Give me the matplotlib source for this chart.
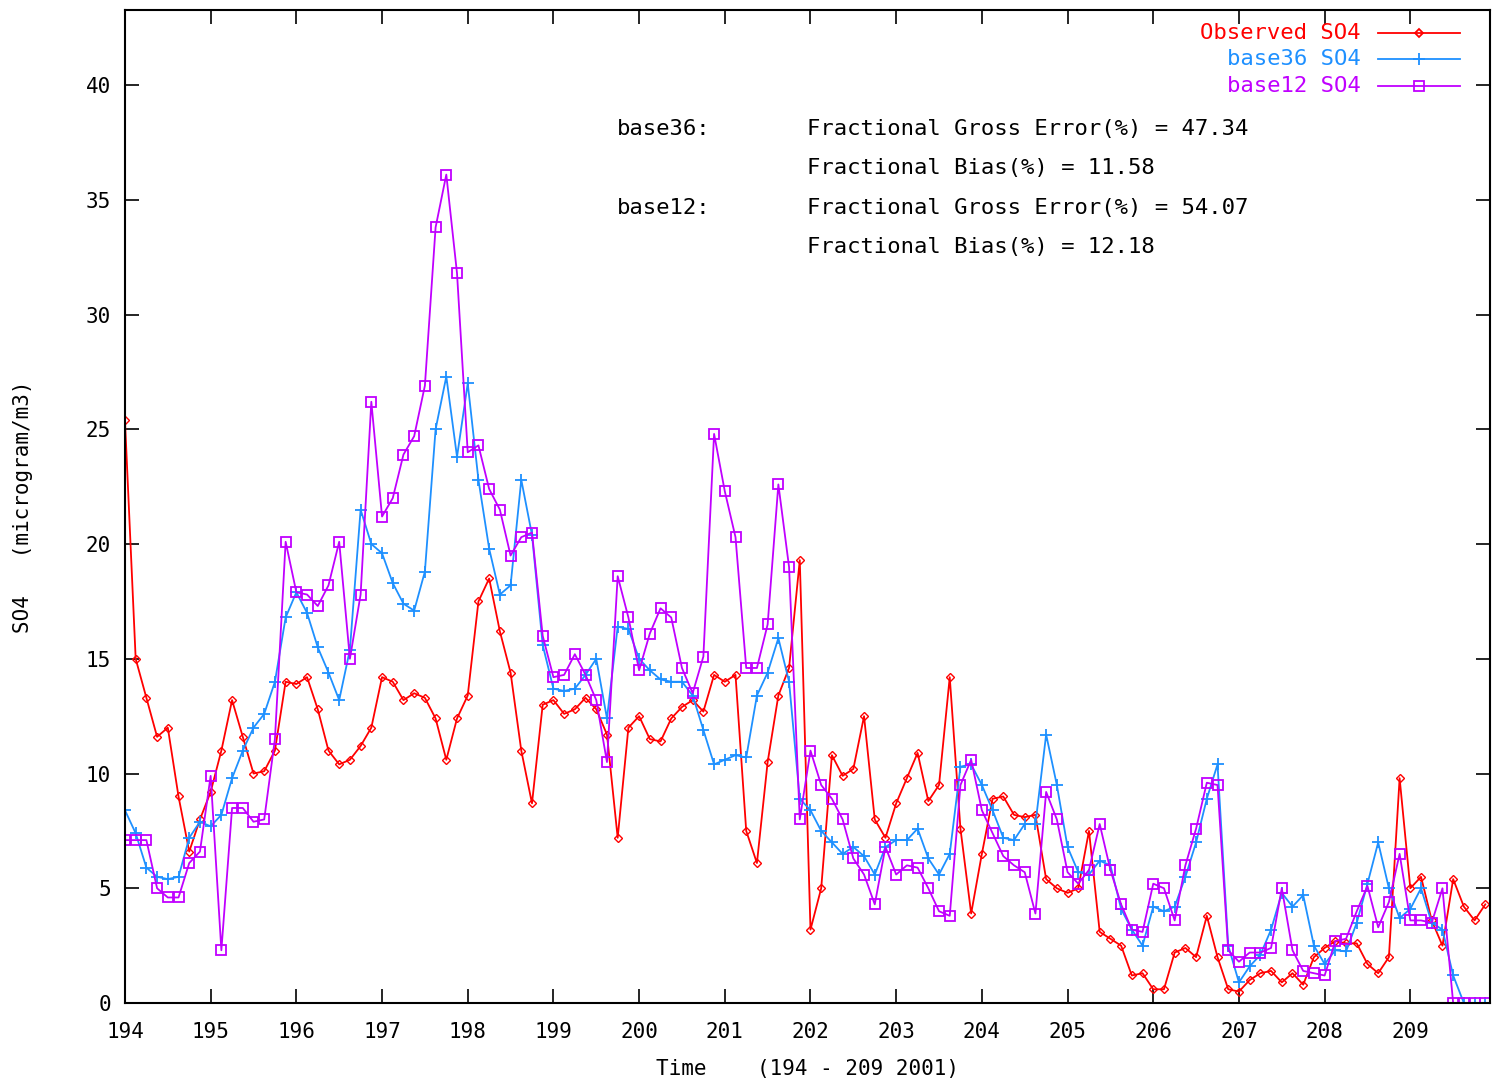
import numpy as np
import matplotlib.pyplot as plt
from matplotlib.lines import Line2D

plt.rcParams['font.family'] = ['DejaVu Sans Mono']

# 3-hourly values, one row per day (194 ... 209)
observed = [
    25.4, 15.0, 13.3, 11.6, 12.0, 9.0, 6.6, 8.0,
    9.2, 11.0, 13.2, 11.6, 10.0, 10.1, 11.0, 14.0,
    13.9, 14.2, 12.8, 11.0, 10.4, 10.6, 11.2, 12.0,
    14.2, 14.0, 13.2, 13.5, 13.3, 12.4, 10.6, 12.4,
    13.4, 17.5, 18.5, 16.2, 14.4, 11.0, 8.7, 13.0,
    13.2, 12.6, 12.8, 13.3, 12.8, 11.7, 7.2, 12.0,
    12.5, 11.5, 11.4, 12.4, 12.9, 13.2, 12.7, 14.3,
    14.0, 14.3, 7.5, 6.1, 10.5, 13.4, 14.6, 19.3,
    3.2, 5.0, 10.8, 9.9, 10.2, 12.5, 8.0, 7.2,
    8.7, 9.8, 10.9, 8.8, 9.5, 14.2, 7.6, 3.9,
    6.5, 8.9, 9.0, 8.2, 8.1, 8.2, 5.4, 5.0,
    4.8, 5.0, 7.5, 3.1, 2.8, 2.5, 1.2, 1.3,
    0.6, 0.6, 2.2, 2.4, 2.0, 3.8, 2.0, 0.6,
    0.5, 1.0, 1.3, 1.4, 0.9, 1.3, 0.8, 2.0,
    2.4, 2.7, 2.6, 2.6, 1.7, 1.3, 2.0, 9.8,
    5.0, 5.5, 3.6, 2.5, 5.4, 4.2, 3.6, 4.3,
]
base36 = [
    8.4, 7.4, 5.9, 5.5, 5.4, 5.5, 7.2, 7.9,
    7.7, 8.2, 9.8, 11.0, 12.0, 12.6, 14.0, 16.8,
    17.9, 17.0, 15.5, 14.4, 13.2, 15.4, 21.5, 20.0,
    19.6, 18.3, 17.4, 17.1, 18.8, 25.0, 27.3, 23.8,
    27.0, 22.8, 19.8, 17.8, 18.2, 22.8, 20.4, 15.6,
    13.7, 13.6, 13.7, 14.3, 15.0, 12.4, 16.4, 16.3,
    15.0, 14.5, 14.1, 14.0, 14.0, 13.4, 11.9, 10.4,
    10.6, 10.8, 10.7, 13.4, 14.4, 15.9, 14.0, 8.9,
    8.4, 7.5, 7.0, 6.5, 6.8, 6.4, 5.6, 6.8,
    7.1, 7.1, 7.6, 6.3, 5.6, 6.5, 10.3, 10.4,
    9.5, 8.4, 7.2, 7.1, 7.8, 7.8, 11.7, 9.5,
    6.8, 5.7, 5.6, 6.2, 6.0, 4.1, 3.2, 2.5,
    4.2, 4.0, 4.2, 5.5, 7.0, 8.9, 10.4, 2.5,
    0.9, 1.6, 2.1, 3.2, 4.8, 4.2, 4.7, 2.5,
    1.7, 2.3, 2.25, 3.5, 5.2, 7.0, 5.0, 3.7,
    4.1, 5.0, 3.5, 3.2, 1.2, 0.0, 0.0, 0.0,
]
base12 = [
    7.1, 7.1, 7.1, 5.0, 4.6, 4.6, 6.1, 6.6,
    9.9, 2.3, 8.5, 8.5, 7.9, 8.0, 11.5, 20.1,
    17.9, 17.8, 17.3, 18.2, 20.1, 15.0, 17.8, 26.2,
    21.2, 22.0, 23.9, 24.7, 26.9, 33.8, 36.1, 31.8,
    24.0, 24.3, 22.4, 21.5, 19.5, 20.3, 20.5, 16.0,
    14.2, 14.3, 15.2, 14.3, 13.2, 10.5, 18.6, 16.8,
    14.5, 16.1, 17.2, 16.8, 14.6, 13.5, 15.1, 24.8,
    22.3, 20.3, 14.6, 14.6, 16.5, 22.6, 19.0, 8.0,
    11.0, 9.5, 8.9, 8.0, 6.3, 5.6, 4.3, 6.8,
    5.6, 6.0, 5.9, 5.0, 4.0, 3.8, 9.5, 10.6,
    8.4, 7.4, 6.4, 6.0, 5.7, 3.9, 9.2, 8.0,
    5.7, 5.2, 5.8, 7.8, 5.8, 4.3, 3.2, 3.1,
    5.2, 5.0, 3.6, 6.0, 7.6, 9.6, 9.5, 2.3,
    1.8, 2.2, 2.2, 2.4, 5.0, 2.3, 1.4, 1.3,
    1.2, 2.7, 2.8, 4.0, 5.1, 3.3, 4.4, 6.5,
    3.6, 3.6, 3.5, 5.0, 0.0, 0.0, 0.0, 0.0,
]
hours = np.arange(0, 16 * 24, 3)
time = 194 + hours / 24.0

red = '#ff0000'
blue = '#1e90ff'
purple = '#c000ff'

fig = plt.figure(figsize=(14.93, 10.79), dpi=100)
ax = fig.add_axes([0.0837, 0.0704, 0.9143, 0.9203])

ax.plot(time, observed, color=red, lw=1.3, marker='D', ms=4.5, mfc='none', mew=1.0)
ax.plot(time, base36, color=blue, lw=1.3, marker='+', ms=9, mew=1.3)
ax.plot(time, base12, color=purple, lw=1.3, marker='s', ms=7, mfc='none', mew=1.3)

ax.set_xlim(194, 209.93)
ax.set_ylim(0, 43.27)
ax.set_xticks(range(194, 210))
ax.set_yticks(range(0, 41, 5))
ax.tick_params(direction='in', length=10, width=1.2, top=True, right=True, labelsize=15)
ax.tick_params(axis='x', pad=14)
ax.tick_params(axis='y', pad=10)
for s in ax.spines.values():
    s.set_linewidth(1.5)

ax.set_xlabel('Time    (194 - 209 2001)', fontsize=15, labelpad=12)
ax.set_ylabel('SO4   (microgram/m3)', fontsize=15, labelpad=38)

# legend: label right-aligned, sample line to the right
leg = [('Observed SO4', red, 'D', 4.5), ('base36 SO4', blue, '+', 9), ('base12 SO4', purple, 's', 7)]
for i, (name, c, m, size) in enumerate(leg):
    yy = 0.977 - i * 0.0267
    ax.text(0.905, yy, name, color=c, fontsize=16, ha='right', va='center', transform=ax.transAxes)
    ax.add_line(Line2D([0.918, 0.978], [yy, yy], color=c, lw=1.3, transform=ax.transAxes))
    ax.add_line(Line2D([0.948], [yy], color=c, marker=m, ms=size, mfc='none', mew=1.3, transform=ax.transAxes))

fs = 16
fig.text(0.4133, 0.8804, 'base36:', fontsize=fs, va='center')
fig.text(0.5405, 0.8804, 'Fractional Gross Error(%) = 47.34', fontsize=fs, va='center')
fig.text(0.5405, 0.8443, 'Fractional Bias(%) = 11.58', fontsize=fs, va='center')
fig.text(0.4133, 0.8072, 'base12:', fontsize=fs, va='center')
fig.text(0.5405, 0.8072, 'Fractional Gross Error(%) = 54.07', fontsize=fs, va='center')
fig.text(0.5405, 0.7711, 'Fractional Bias(%) = 12.18', fontsize=fs, va='center')

fig.savefig('out.png', dpi=100)
